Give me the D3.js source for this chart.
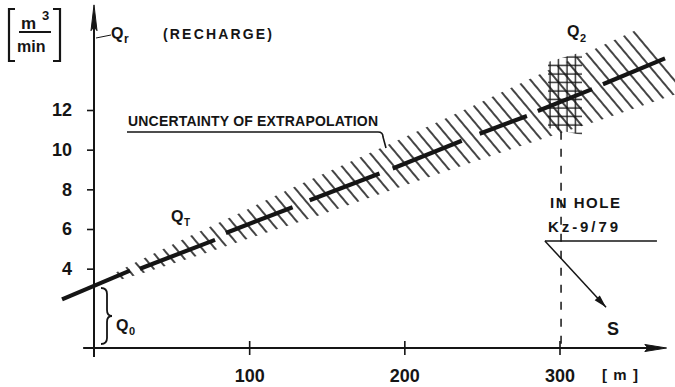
<!DOCTYPE html>
<html><head><meta charset="utf-8">
<script src="https://cdn.jsdelivr.net/npm/d3@7/dist/d3.min.js"></script>
<style>
html,body{margin:0;padding:0;background:#fff;}
svg{display:block;background:#fff;}
text{font-family:"Liberation Sans",Arial,sans-serif;font-weight:bold;fill:#151515;}
</style></head><body>
<svg id="chart" width="675" height="387"></svg>
<script>
// ---- data ----
const yTicks = [4, 6, 8, 10, 12];
const xTicks = [100, 200, 300];
const xTickLabels = ["100", "200", "300"];
// dashed fit line Q_T (distance m, Q m3/min)
const segFrom  = [-20.6, 29.6, 85, 139, 192.5, 248.5, 286, 328];
const segTo    = [23.2, 78, 128, 184, 237, 279, 321, 368];
const segQFrom = [2.45, 4.0, 5.8, 7.45, 9.05, 10.8, 11.95, 13.3];
const segQTo   = [3.9, 5.45, 7.1, 8.8, 10.45, 11.7, 13.05, 14.6];
// uncertainty band of extrapolation (centre and half-width, m3/min)
const bandD    = [12, 30, 68, 100, 133, 197, 261, 313, 368];
const bandMid  = [3.51, 4.07, 5.25, 6.25, 7.28, 9.27, 11.26, 12.87, 14.58];
const bandHalf = [0.2, 0.35, 0.6, 0.75, 0.95, 1.2, 1.5, 1.8, 2.05];
// Q2 measured in hole Kz-9/79
const q2D     = [292.6, 314.5];
const q2Upper = [14.42, 14.93];
const q2Lower = [11.09, 10.74];
const holeDist = 301;

// ---- setup ----
const ink = "#151515";
const svg = d3.select("#chart");
const x = d3.scaleLinear().domain([0, 300]).range([94, 559.5]);
const y = d3.scaleLinear().domain([0, 12]).range([348, 110]);
const hatchAngle = 50 * Math.PI / 180;
const hdx = Math.cos(hatchAngle), hdy = Math.sin(hatchAngle);

const defs = svg.append("defs");
const hp = defs.append("pattern").attr("id", "hatch").attr("patternUnits", "userSpaceOnUse")
  .attr("width", 10).attr("height", 20).attr("patternTransform", "rotate(-40)");
hp.append("line").attr("x1", 5).attr("x2", 5).attr("y1", -1).attr("y2", 21)
  .attr("stroke", ink).attr("stroke-width", 1.6);
const gp = defs.append("pattern").attr("id", "grid").attr("patternUnits", "userSpaceOnUse")
  .attr("width", 8.5).attr("height", 8.5).attr("x", 2).attr("y", 2);
gp.append("line").attr("x1", 4).attr("x2", 4).attr("y1", 0).attr("y2", 8.5).attr("stroke", ink).attr("stroke-width", 1.3);
gp.append("line").attr("x1", 0).attr("x2", 8.5).attr("y1", 4).attr("y2", 4).attr("stroke", ink).attr("stroke-width", 1.3);

// ---- hatched uncertainty band (ends slanted along hatch direction) ----
const pxPerQ = y(0) - y(1);
const upperPts = bandD.map((d, i) => {
  const h = bandHalf[i] * pxPerQ / (hdy + hdx * 0.4);
  return [x(d) - hdx * h, y(bandMid[i]) - hdy * h];
});
const lowerPts = bandD.map((d, i) => {
  const h = bandHalf[i] * pxPerQ / (hdy + hdx * 0.4);
  return [x(d) + hdx * h, y(bandMid[i]) + hdy * h];
});
const poly = upperPts.concat(lowerPts.slice().reverse());
svg.append("path").attr("d", d3.line()(poly) + "Z").attr("fill", "url(#hatch)");

const area = d3.area().x(d => x(d.d)).y0(d => y(d.lo)).y1(d => y(d.hi));
const q2 = q2D.map((d, i) => ({d, hi: q2Upper[i], lo: q2Lower[i]}));
svg.append("path").datum(q2).attr("d", area).attr("fill", "url(#grid)");

// ---- axes ----
const axisG = svg.append("g");
axisG.append("line").attr("x1", x(0)).attr("x2", x(0)).attr("y1", y(-0.45)).attr("y2", y(16.6))
  .attr("stroke", ink).attr("stroke-width", 2);
axisG.append("path")
  .attr("d", `M${x(0)},${y(17.3)} L${x(0) + 3},${y(16.0)} L${x(0)},${y(16.2)} L${x(0) - 3},${y(16.0)} Z`)
  .attr("fill", ink).attr("stroke", ink).attr("stroke-width", 1);
axisG.append("line").attr("x1", x(-7)).attr("x2", x(362)).attr("y1", y(0)).attr("y2", y(0))
  .attr("stroke", ink).attr("stroke-width", 2);
axisG.append("path")
  .attr("d", `M${x(369)},${y(0)} L${x(355)},${y(0) - 3.5} L${x(357)},${y(0)} L${x(355)},${y(0) + 3.5} Z`)
  .attr("fill", ink).attr("stroke", ink).attr("stroke-width", 1);

const yAxis = d3.axisLeft(y).tickValues(yTicks).tickSize(7).tickPadding(15).tickFormat(d3.format("d"));
const yg = svg.append("g").attr("transform", `translate(${x(0)},0)`).call(yAxis);
yg.select(".domain").remove();
yg.selectAll(".tick line").attr("stroke", ink).attr("stroke-width", 1.6);
yg.selectAll(".tick text").attr("font-size", 18).attr("font-family", null).attr("fill", ink);

const xAxis = d3.axisBottom(x).tickValues(xTicks).tickSize(7).tickPadding(14)
  .tickFormat((d, i) => xTickLabels[i]);
const xg = svg.append("g").attr("transform", `translate(0,${y(0)})`).call(xAxis);
xg.select(".domain").remove();
xg.selectAll(".tick line").attr("y1", -7).attr("stroke", ink).attr("stroke-width", 1.6);
xg.selectAll(".tick text").attr("font-size", 18).attr("font-family", null).attr("fill", ink);
svg.append("line").attr("x1", x(0)).attr("x2", x(0)).attr("y1", y(0)).attr("y2", y(-0.45))
  .attr("stroke", ink).attr("stroke-width", 2);

// ---- dashed fit line segments ----
const segs = segFrom.map((d, i) => ({d0: d, d1: segTo[i], q0: segQFrom[i], q1: segQTo[i]}));
svg.append("g").selectAll("line").data(segs).join("line")
  .attr("x1", s => x(s.d0)).attr("y1", s => y(s.q0))
  .attr("x2", s => x(s.d1)).attr("y2", s => y(s.q1))
  .attr("stroke", ink).attr("stroke-width", 4.2);

// ---- hole dashed line ----
svg.append("line").attr("x1", x(holeDist)).attr("x2", x(holeDist))
  .attr("y1", y(10.9)).attr("y2", y(0.1))
  .attr("stroke", ink).attr("stroke-width", 1.5).attr("stroke-dasharray", "8,9");

// ---- annotations ----
const ann = svg.append("g");
ann.append("path").attr("d", "M15,9 H9 V61 H15").attr("fill", "none").attr("stroke", ink).attr("stroke-width", 2.2);
ann.append("path").attr("d", "M53,9 H60 V61 H53").attr("fill", "none").attr("stroke", ink).attr("stroke-width", 2.2);
ann.append("text").attr("x", 21).attr("y", 29).attr("font-size", 17).text("m");
ann.append("text").attr("x", 42).attr("y", 20).attr("font-size", 13).text("3");
ann.append("line").attr("x1", 19).attr("x2", 51).attr("y1", 32).attr("y2", 32).attr("stroke", ink).attr("stroke-width", 2);
ann.append("text").attr("x", 17).attr("y", 52).attr("font-size", 16).text("min");

ann.append("line").attr("x1", x(0) + 2).attr("y1", 38).attr("x2", 111).attr("y2", 35).attr("stroke", ink).attr("stroke-width", 1);
ann.append("text").attr("x", 111).attr("y", 39).attr("font-size", 16).text("Q");
ann.append("text").attr("x", 124).attr("y", 43).attr("font-size", 12).text("r");
ann.append("text").attr("x", 163).attr("y", 39).attr("font-size", 14)
  .attr("textLength", 109).attr("lengthAdjust", "spacing").text("(RECHARGE)");

ann.append("text").attr("x", 128).attr("y", 126).attr("font-size", 14)
  .attr("textLength", 250).attr("lengthAdjust", "spacing").text("UNCERTAINTY OF EXTRAPOLATION");
ann.append("path").attr("d", "M127,132 H378 Q383,132 383,137 L386,148")
  .attr("fill", "none").attr("stroke", ink).attr("stroke-width", 1.6);

ann.append("text").attr("x", 171).attr("y", 222).attr("font-size", 16).text("Q");
ann.append("text").attr("x", 184).attr("y", 226).attr("font-size", 10).text("T");

ann.append("path").attr("d", "M101,288 q6,0 6,6 v16 q0,6 5,6 q-5,0 -5,6 v16 q0,6 -6,6")
  .attr("fill", "none").attr("stroke", ink).attr("stroke-width", 1.8);
ann.append("text").attr("x", 116).attr("y", 331).attr("font-size", 16).text("Q");
ann.append("text").attr("x", 129).attr("y", 335).attr("font-size", 11).text("0");

ann.append("text").attr("x", 567).attr("y", 37).attr("font-size", 16).text("Q");
ann.append("text").attr("x", 580).attr("y", 42).attr("font-size", 11).text("2");

ann.append("text").attr("x", 550).attr("y", 208).attr("font-size", 15)
  .attr("textLength", 70).attr("lengthAdjust", "spacing").text("IN HOLE");
ann.append("text").attr("x", 548).attr("y", 232).attr("font-size", 15)
  .attr("textLength", 70).attr("lengthAdjust", "spacing").text("Kz-9/79");
const lp0 = [x(290.6), y(5.4)], lp1 = [x(362.8), y(5.4)], ap = [x(330), y(2.05)];
ann.append("line").attr("x1", lp0[0]).attr("y1", lp0[1]).attr("x2", lp1[0]).attr("y2", lp1[1])
  .attr("stroke", ink).attr("stroke-width", 1.5);
ann.append("line").attr("x1", lp0[0]).attr("y1", lp0[1]).attr("x2", ap[0]).attr("y2", ap[1])
  .attr("stroke", ink).attr("stroke-width", 1.5);
{
  const ang = Math.atan2(ap[1] - lp0[1], ap[0] - lp0[0]);
  const L = 13, W = 3.5;
  const bx = ap[0] - L * Math.cos(ang), by = ap[1] - L * Math.sin(ang);
  const px = -Math.sin(ang) * W, py = Math.cos(ang) * W;
  ann.append("path").attr("d", `M${ap[0]},${ap[1]} L${bx + px},${by + py} L${bx - px},${by - py} Z`)
    .attr("fill", ink);
}
ann.append("text").attr("x", 613).attr("y", 335).attr("font-size", 18).attr("text-anchor", "middle").text("S");
ann.append("text").attr("x", 620).attr("y", 380).attr("font-size", 15).attr("text-anchor", "middle")
  .attr("textLength", 36).attr("lengthAdjust", "spacing").text("[m]");
</script>
</body></html>
